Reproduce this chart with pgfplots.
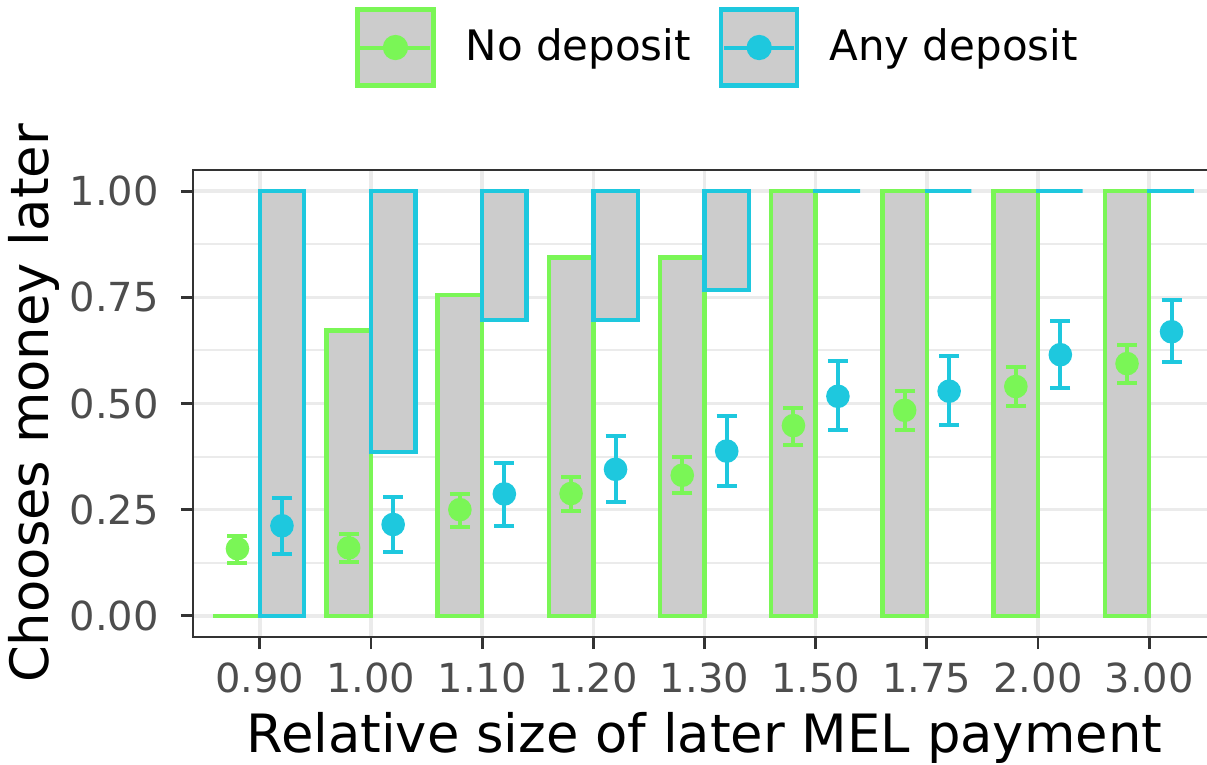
\documentclass[border=0pt]{standalone}
\usepackage{pgfplots}
\pgfplotsset{compat=1.18}
\usepackage{pgfplotstable}
\usepackage{fontspec}
\setmainfont{DejaVu Sans}

\definecolor{nodep}{RGB}{122,246,86}
\definecolor{anydep}{RGB}{30,200,222}
\definecolor{barfill}{RGB}{204,204,204}
\definecolor{gridc}{RGB}{235,235,235}
\definecolor{framec}{RGB}{51,51,51}
\definecolor{tickc}{RGB}{77,77,77}

% point estimates with interval ends (green: no deposit, blue: any deposit)
\pgfplotstableread{
x y hi lo
0.8 0.158 0.189 0.124
1.8 0.160 0.193 0.127
2.8 0.250 0.288 0.210
3.8 0.288 0.328 0.248
4.8 0.331 0.373 0.289
5.8 0.448 0.490 0.402
6.8 0.484 0.529 0.437
7.8 0.540 0.587 0.495
8.8 0.594 0.637 0.548
}\nodeppts
\pgfplotstableread{
x y hi lo
1.2 0.212 0.277 0.146
2.2 0.215 0.279 0.151
3.2 0.287 0.361 0.212
4.2 0.345 0.423 0.267
5.2 0.388 0.470 0.306
6.2 0.517 0.599 0.437
7.2 0.529 0.611 0.449
8.2 0.615 0.694 0.537
9.2 0.669 0.745 0.597
}\anydeppts

\pgfplotsset{
  legimg/.style={legend image code/.code={
    \draw[draw=#1, fill=barfill, line width=1.1pt] (0pt,-9.5pt) rectangle (19pt,9.5pt);
    \draw[draw=#1, line width=1pt] (1.25pt,0pt) -- (17.75pt,0pt);
    \fill[#1] (9.5pt,0pt) circle (2.6pt);
  }},
  rects/.style={line width=1.1pt, line join=miter, line cap=rect,
    fill=barfill, unbounded coords=jump},
  pts/.style={only marks, mark=*, mark size=2.75pt, color=#1, forget plot,
    error bars/.cd, y dir=both, y explicit,
    error bar style={line width=1pt, #1},
    error mark options={rotate=90, mark size=2.5pt, line width=1pt, #1}},
}

\begin{document}
\begin{tikzpicture}
\begin{axis}[
  name=ax,
  width=255.75pt, height=116.75pt, scale only axis,
  xmin=0.4, xmax=9.6, ymin=-0.05, ymax=1.05,
  xtick={1,2,3,4,5,6,7,8,9},
  xticklabels={0.90,1.00,1.10,1.20,1.30,1.50,1.75,2.00,3.00},
  ytick={0,0.25,0.5,0.75,1},
  yticklabels={0.00,0.25,0.50,0.75,1.00},
  minor ytick={0.125,0.375,0.625,0.875},
  xmajorgrids, ymajorgrids, yminorgrids,
  major grid style={gridc, line width=0.9pt},
  minor grid style={gridc, line width=0.5pt},
  axis line style={framec, line width=0.7pt},
  tick pos=left, tick align=outside,
  major tick length=3pt, minor tick length=0pt,
  tick style={framec, line width=0.7pt},
  tick label style={font=\fontsize{10}{12}\selectfont, text=tickc},
  yticklabel style={xshift=-2pt},
  label style={font=\fontsize{13.2}{15.8}\selectfont},
  xlabel={Relative size of later MEL payment},
  ylabel={Chooses money later},
  xlabel style={at={(axis description cs:0.5,-0.2463)}, anchor=base},
  ylabel style={at={(axis description cs:-0.1408,0.5)}, anchor=base},
  legend columns=2,
  legend cell align=left,
  legend style={draw=none, fill=none,
    at={(axis description cs:0.5118,1.2623)}, anchor=center,
    font=\fontsize{10.5}{12.6}\selectfont,
    nodes={inner sep=0pt},
    column sep=7.5pt,
    /tikz/every even column/.append style={column sep=7pt}},
]
% floating bars, one rectangle per category
\addplot[rects, draw=nodep, legimg=nodep] coordinates {
  (0.6,0) (1,0) (1,0) (0.6,0) (0.6,0) (nan,nan)
  (1.6,0) (2,0) (2,0.672) (1.6,0.672) (1.6,0) (nan,nan)
  (2.6,0) (3,0) (3,0.755) (2.6,0.755) (2.6,0) (nan,nan)
  (3.6,0) (4,0) (4,0.844) (3.6,0.844) (3.6,0) (nan,nan)
  (4.6,0) (5,0) (5,0.844) (4.6,0.844) (4.6,0) (nan,nan)
  (5.6,0) (6,0) (6,1) (5.6,1) (5.6,0) (nan,nan)
  (6.6,0) (7,0) (7,1) (6.6,1) (6.6,0) (nan,nan)
  (7.6,0) (8,0) (8,1) (7.6,1) (7.6,0) (nan,nan)
  (8.6,0) (9,0) (9,1) (8.6,1) (8.6,0)
};
\addlegendentry{No deposit}
\addplot[rects, draw=anydep, legimg=anydep] coordinates {
  (1,0) (1.4,0) (1.4,1) (1,1) (1,0) (nan,nan)
  (2,0.386) (2.4,0.386) (2.4,1) (2,1) (2,0.386) (nan,nan)
  (3,0.697) (3.4,0.697) (3.4,1) (3,1) (3,0.697) (nan,nan)
  (4,0.697) (4.4,0.697) (4.4,1) (4,1) (4,0.697) (nan,nan)
  (5,0.767) (5.4,0.767) (5.4,1) (5,1) (5,0.767) (nan,nan)
  (6,1) (6.4,1) (6.4,1) (6,1) (6,1) (nan,nan)
  (7,1) (7.4,1) (7.4,1) (7,1) (7,1) (nan,nan)
  (8,1) (8.4,1) (8.4,1) (8,1) (8,1) (nan,nan)
  (9,1) (9.4,1) (9.4,1) (9,1) (9,1)
};
\addlegendentry{Any deposit}
% estimates with intervals
\addplot[pts=nodep] table[x=x, y=y,
  y error plus expr=\thisrow{hi}-\thisrow{y},
  y error minus expr=\thisrow{y}-\thisrow{lo}] {\nodeppts};
\addplot[pts=anydep] table[x=x, y=y,
  y error plus expr=\thisrow{hi}-\thisrow{y},
  y error minus expr=\thisrow{y}-\thisrow{lo}] {\anydeppts};
\end{axis}
\pgfresetboundingbox
\path[use as bounding box] ([xshift=-48.25pt,yshift=-31.75pt]ax.south west)
  rectangle ([xshift=253.5pt,yshift=42.5pt]ax.north west);
\end{tikzpicture}
\end{document}
